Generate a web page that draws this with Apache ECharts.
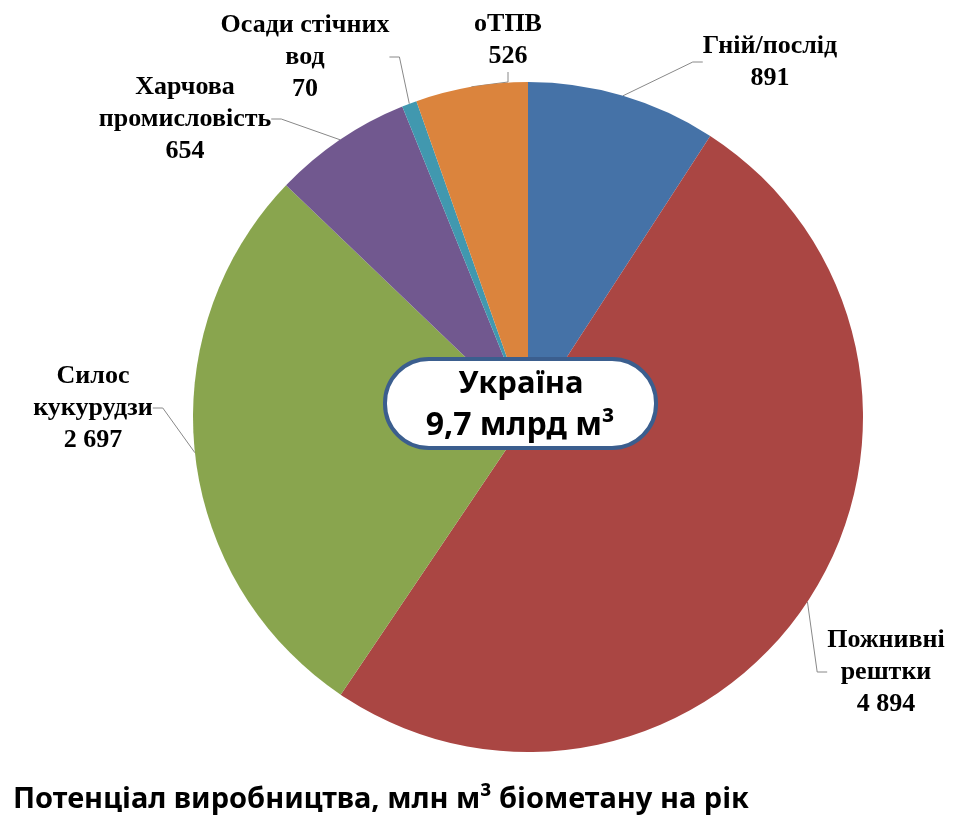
<!DOCTYPE html>
<html><head><meta charset="utf-8">
<script src="https://cdn.jsdelivr.net/npm/echarts@6/dist/echarts.min.js"></script>
<style>html,body{margin:0;padding:0;background:#fff}#c{width:960px;height:815px}</style>
</head><body><div id="c"></div>
<script>
const categories = ['Гній/послід', 'Пожнивні\nрештки', 'Силос\nкукурудзи', 'Харчова\nпромисловість', 'Осади стічних\nвод', 'оТПВ'];
const values = [891, 4894, 2697, 654, 70, 526];
const colors = ['#4572A7', '#AA4643', '#89A54E', '#71588F', '#4198AF', '#DB843D'];
const titleText = 'Потенціал виробництва, млн м³ біометану на рік';
const centerLines = ['Україна', '9,7 млрд м³'];

function fmt(v) { return String(v).replace(/\B(?=(\d{3})+(?!\d))/g, ' '); }

const labelAnchors = [[770, 62], [886, 672], [93, 408], [185, 119], [305, 57], [508, 40]];

const chart = echarts.init(document.getElementById('c'));
chart.setOption({
  animation: false,
  title: {
    text: titleText, left: 8, top: 778,
    textStyle: { fontFamily: 'Noto Sans', fontWeight: 'bold', fontSize: 29, color: '#000', lineHeight: 34 }
  },
  series: [{
    type: 'pie',
    center: [528, 417],
    radius: 335,
    startAngle: 90,
    clockwise: true,
    data: categories.map((n, i) => ({ name: n, value: values[i], itemStyle: { color: colors[i] } })),
    label: {
      show: true, position: 'outside',
      formatter: p => p.name + '\n' + fmt(p.value),
      fontFamily: 'Liberation Serif', fontWeight: 'bold', fontSize: 26, lineHeight: 32, color: '#000',
      align: 'center', overflow: 'none'
    },
    labelLine: { show: true, length: 15, length2: 10, lineStyle: { color: '#888', width: 1 } },
    labelLayout: function (p) {
      const a = labelAnchors[p.dataIndex];
      return { x: a[0], y: a[1], align: 'center', verticalAlign: 'middle' };
    },
    emphasis: { disabled: true }
  }],
  graphic: [{
    type: 'group', z: 100,
    children: [{
      type: 'rect', z: 100, shape: { x: 385, y: 359, width: 271, height: 89, r: 44 },
      style: { fill: '#fff', stroke: '#3B5E8E', lineWidth: 4 }
    }, {
      type: 'text', z: 101, x: 521, y: 384,
      style: { text: centerLines[0], fontFamily: 'Noto Sans', fontWeight: 'bold', fontSize: 31, fill: '#000', align: 'center', verticalAlign: 'middle' }
    }, {
      type: 'text', z: 101, x: 520, y: 426,
      style: { text: centerLines[1], fontFamily: 'Noto Sans', fontWeight: 'bold', fontSize: 32, fill: '#000', align: 'center', verticalAlign: 'middle' }
    }]
  }]
});
</script></body></html>
